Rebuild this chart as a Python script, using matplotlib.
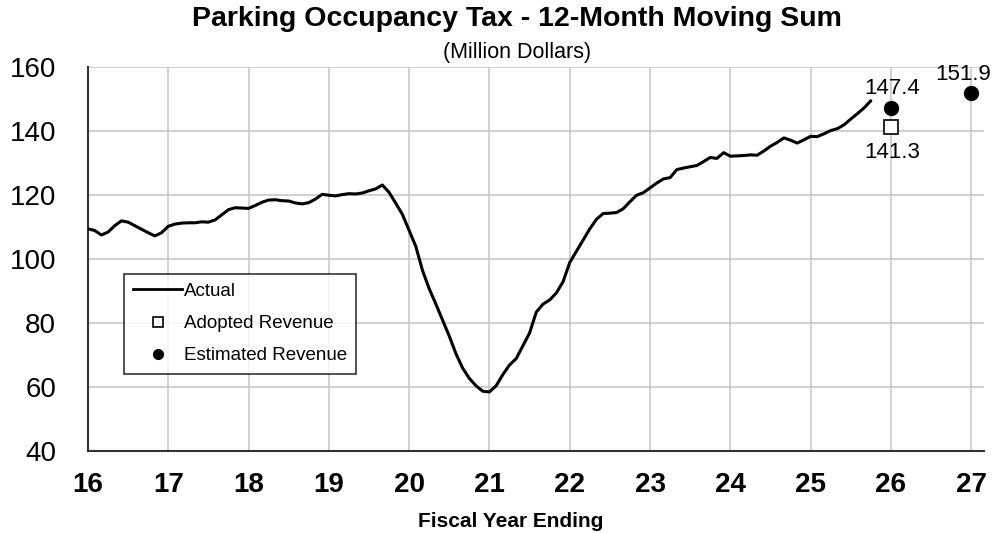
import numpy as np
import matplotlib
matplotlib.use("Agg")
import matplotlib.pyplot as plt
from matplotlib.lines import Line2D

plt.rcParams['font.family'] = ['Liberation Sans', 'DejaVu Sans']

# 12-month moving sum, one value per month starting at the end of FY16
actual = [
    109.5, 109.0, 107.6, 108.5, 110.5, 112.0, 111.6, 110.5, 109.4, 108.3, 107.3, 108.3,
    110.3, 111.0, 111.3, 111.4, 111.4, 111.7, 111.6, 112.3, 113.9, 115.5, 116.1, 116.0,
    115.9, 116.8, 117.8, 118.5, 118.6, 118.3, 118.2, 117.6, 117.3, 117.7, 118.8, 120.3,
    120.0, 119.8, 120.2, 120.5, 120.4, 120.7, 121.4, 122.0, 123.2, 120.9, 117.5, 114.0,
    109.0, 104.0, 96.5, 90.8, 86.0, 81.0, 76.0, 70.5, 66.0, 62.8, 60.5, 58.8,
    58.6, 60.5, 64.0, 67.0, 69.0, 73.0, 77.0, 83.5, 86.0, 87.3, 89.5, 93.0,
    99.0, 102.5, 106.0, 109.5, 112.5, 114.3, 114.4, 114.6, 115.8, 118.0, 120.0, 120.8,
    122.3, 123.8, 125.1, 125.5, 128.0, 128.5, 128.9, 129.3, 130.5, 131.8, 131.5, 133.3,
    132.2, 132.3, 132.4, 132.6, 132.5, 133.8, 135.3, 136.5, 137.9, 137.2, 136.3, 137.3,
    138.4, 138.3, 139.2, 140.2, 140.8, 142.0, 143.8, 145.5, 147.3, 149.5,
]
start_year = 16

adopted_years = [26]
adopted_values = [141.3]
estimated_years = [26, 27]
estimated_values = [147.4, 151.9]

x_ticks = list(range(16, 28))
y_ticks = list(range(40, 161, 20))

months = start_year + np.arange(len(actual)) / 12.0

fig = plt.figure(figsize=(9.95, 5.33), dpi=100)
ax = fig.add_axes([0.0884, 0.153, 0.9006, 0.721])

ax.plot(months, actual, color='black', lw=2.2, solid_capstyle='round', zorder=3)
ax.plot(adopted_years, adopted_values, ls='none', marker='s', ms=10,
        mfc='white', mec='black', mew=1.2, zorder=4)
ax.plot(estimated_years, estimated_values, ls='none', marker='o', ms=10,
        color='black', zorder=4)

# value labels next to the markers
ax.annotate(f"{adopted_values[0]:.1f}", (adopted_years[0], adopted_values[0]),
            xytext=(1, -11), textcoords='offset points', ha='center', va='top',
            fontsize=16)
ax.annotate(f"{estimated_values[0]:.1f}", (estimated_years[0], estimated_values[0]),
            xytext=(1, 6), textcoords='offset points', ha='center', va='bottom',
            fontsize=16)
ax.annotate(f"{estimated_values[1]:.1f}", (estimated_years[1], estimated_values[1]),
            xytext=(-6, 6), textcoords='offset points', ha='center', va='bottom',
            fontsize=16)

ax.set_xlim(16, 27.16)
ax.set_ylim(40, 160)
ax.set_xticks(x_ticks)
ax.set_yticks(y_ticks)
ax.set_xticklabels([str(t) for t in x_ticks], fontsize=20, fontweight='bold')
ax.set_yticklabels([str(t) for t in y_ticks], fontsize=20)
ax.tick_params(length=0)
ax.tick_params(axis='x', pad=15)
ax.tick_params(axis='y', pad=23)
ax.grid(True, color='#c8c8c8', lw=1.2)
ax.set_axisbelow(True)
for side in ('top', 'right'):
    ax.spines[side].set_visible(False)
for side in ('left', 'bottom'):
    ax.spines[side].set_linewidth(1.5)
    ax.spines[side].set_color('#333333')

fig.text(0.513, 0.021, 'Fiscal Year Ending', ha='center', va='center',
         fontsize=15, fontweight='bold')
fig.text(0.520, 0.964, 'Parking Occupancy Tax - 12-Month Moving Sum',
         ha='center', va='center', fontsize=20.5, fontweight='bold')
fig.text(0.520, 0.902, '(Million Dollars)', ha='center', va='center', fontsize=15.5)

handles = [
    Line2D([], [], color='black', lw=2),
    Line2D([], [], ls='none', marker='s', ms=7, mfc='white', mec='black', mew=1.2),
    Line2D([], [], ls='none', marker='o', ms=7, color='black'),
]
leg = ax.legend(handles, ['Actual', 'Adopted Revenue', 'Estimated Revenue'],
                loc='upper left', bbox_to_anchor=(0.04, 0.463), fontsize=13.5,
                frameon=True, fancybox=False, edgecolor='black', handlelength=2.6,
                handletextpad=0.1, borderpad=0.5, labelspacing=0.8,
                borderaxespad=0)
leg.get_frame().set_linewidth(1.2)
leg.set_zorder(5)

fig.savefig('out.png', dpi=100, facecolor='white')
